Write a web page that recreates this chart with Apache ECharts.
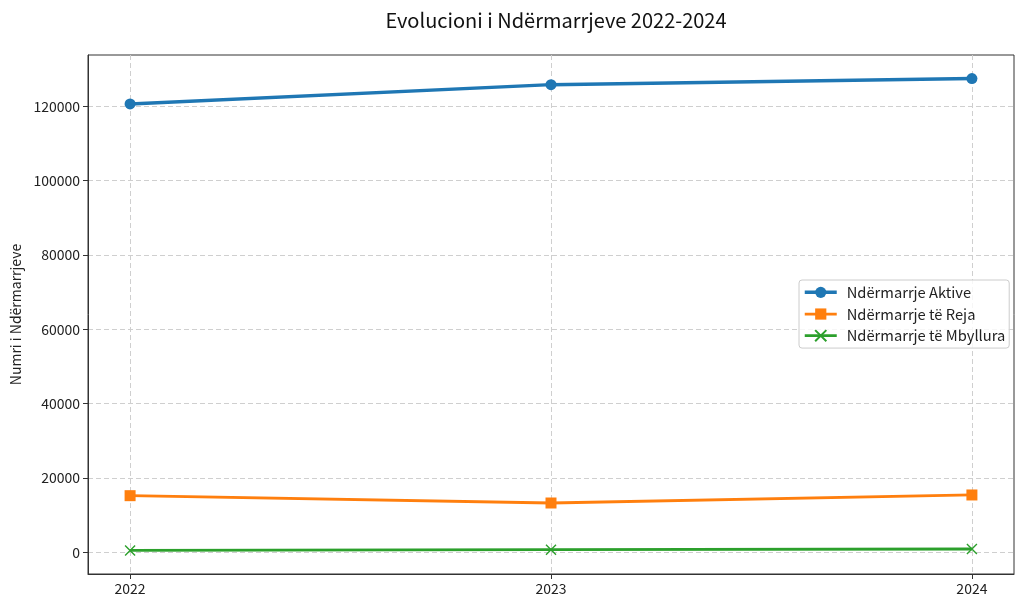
<!DOCTYPE html>
<html>
<head>
<meta charset="utf-8">
<script src="https://cdn.jsdelivr.net/npm/echarts@6/dist/echarts.min.js"></script>
<style>html,body{margin:0;padding:0;background:#fff}#c{width:1024px;height:609px}</style>
</head>
<body>
<div id="c"></div>
<script>
var years = [2022, 2023, 2024];
var aktive = [120650, 125840, 127460];
var reja = [15260, 13290, 15450];
var mbyllura = [540, 730, 910];
var yTicks = [0, 20000, 40000, 60000, 80000, 100000, 120000];
var names = ['Ndërmarrje Aktive', 'Ndërmarrje të Reja', 'Ndërmarrje të Mbyllura'];

function pts(vals) { return years.map(function (y, i) { return [y, vals[i]]; }); }

var FONT = '"Noto Sans CJK SC", "Noto Sans", sans-serif';
var chart = echarts.init(document.getElementById('c'), null, { renderer: 'canvas' });
chart.setOption({
  animation: false,
  backgroundColor: '#fff',
  textStyle: { fontFamily: FONT },
  title: {
    text: 'Evolucioni i Ndërmarrjeve 2022-2024',
    left: 551, top: 5, textAlign: 'center',
    textStyle: { fontFamily: FONT, fontSize: 20, fontWeight: 'normal', color: '#111' }
  },
  grid: { left: 88, right: 10, top: 55, bottom: 35, show: true, borderColor: '#333', borderWidth: 1 },
  legend: {
    orient: 'vertical', left: 799, top: 280,
    padding: [5, 4, 5, 4], itemGap: 7, itemWidth: 32, itemHeight: 14,
    backgroundColor: 'rgba(255,255,255,0.8)', borderColor: '#ccc', borderWidth: 1, borderRadius: 3,
    textStyle: { fontFamily: FONT, fontSize: 14.7, color: '#222', padding: [0, 0, 0, 5] },
    data: [
      { name: names[0], lineStyle: { width: 3.5 } },
      { name: names[1], lineStyle: { width: 2.8 } },
      { name: names[2], lineStyle: { width: 2.8 } }
    ]
  },
  xAxis: {
    type: 'value', min: 2021.9, max: 2024.1,
    axisLine: { show: true, onZero: false, lineStyle: { color: '#333' } },
    axisTick: { show: true, length: 5, lineStyle: { color: '#333' }, customValues: years },
    axisLabel: { customValues: years, margin: 8, fontSize: 14, color: '#222', fontFamily: FONT,
      formatter: function (v) { return String(v); } },
    splitLine: { show: true, lineStyle: { color: '#cfcfcf', type: [5, 3], width: 1 } }
  },
  yAxis: {
    type: 'value', min: -5810, max: 133810,
    name: 'Numri i Ndërmarrjeve', nameLocation: 'middle', nameRotate: 90, nameGap: 64,
    nameTextStyle: { fontFamily: FONT, fontSize: 14, color: '#222' },
    axisLine: { show: true, onZero: false, lineStyle: { color: '#333' } },
    axisTick: { show: true, length: 5, lineStyle: { color: '#333' }, customValues: yTicks },
    axisLabel: { customValues: yTicks, margin: 8, fontSize: 14, color: '#222', fontFamily: FONT,
      formatter: function (v) { return String(v); } },
    splitLine: { show: true, lineStyle: { color: '#cfcfcf', type: [5, 3], width: 1 } }
  },
  series: [
    {
      name: names[0], type: 'line', data: pts(aktive),
      symbol: 'circle', symbolSize: 11,
      lineStyle: { color: '#1f77b4', width: 3.5 },
      itemStyle: { color: '#1f77b4' }
    },
    {
      name: names[1], type: 'line', data: pts(reja),
      symbol: 'rect', symbolSize: 11,
      lineStyle: { color: '#ff7f0e', width: 2.8 },
      itemStyle: { color: '#ff7f0e' }
    },
    {
      name: names[2], type: 'line', data: pts(mbyllura),
      symbol: 'path://M0,0L10,10M10,0L0,10', symbolSize: 10,
      lineStyle: { color: '#2ca02c', width: 2.8 },
      itemStyle: { color: '#2ca02c', borderColor: '#2ca02c', borderWidth: 1.4 }
    }
  ]
});
</script>
</body>
</html>
